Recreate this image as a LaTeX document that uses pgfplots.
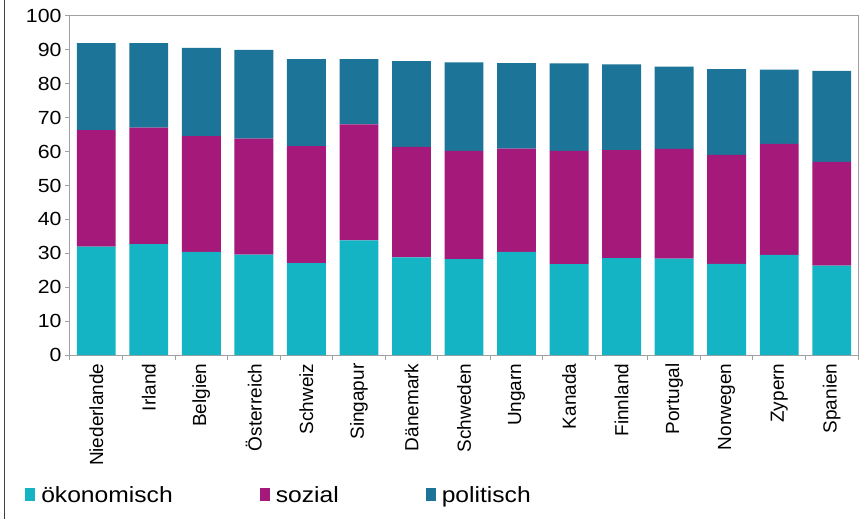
\documentclass[border=0pt]{standalone}
\usepackage{pgfplots}
\pgfplotsset{compat=1.18}
\usepackage{pgfplotstable}
\usepackage{fontspec}
\setmainfont{Liberation Sans}
\newfontfamily\wide[FakeStretch=1.12]{Liberation Sans}

\definecolor{oek}{HTML}{14B4C4}
\definecolor{soz}{HTML}{A5197A}
\definecolor{pol}{HTML}{1C7598}
\definecolor{rahmen}{HTML}{A0A0A0}

\pgfplotstableread{
x  oek   soz   pol
0  32.0  34.3  25.7
1  32.7  34.4  24.9
2  30.4  34.2  26.0
3  29.6  34.2  26.2
4  27.1  34.5  25.7
5  33.8  34.2  19.3
6  28.8  32.6  25.3
7  28.3  31.9  26.1
8  30.4  30.5  25.2
9  26.8  33.4  25.8
10 28.6  31.8  25.3
11 28.4  32.4  24.3
12 26.9  32.1  25.3
13 29.5  32.8  21.9
14 26.4  30.6  26.8
}\data

\begin{document}
\begin{tikzpicture}[x=1pt,y=1pt]
\useasboundingbox (-70,-164) rectangle (796,355);
\draw[black!75, line width=1pt] (-65,-164) -- (-65,355);
\begin{axis}[
  at={(0,0)}, anchor=south west,
  scale only axis, width=788pt, height=339pt,
  ybar stacked, bar width=0.74,
  xmin=-0.5, xmax=14.5, ymin=0, ymax=100,
  ytick={0,10,...,100},
  xtick={0,...,14},
  xticklabels={Niederlande,Irland,Belgien,Österreich,Schweiz,Singapur,Dänemark,Schweden,Ungarn,Kanada,Finnland,Portugal,Norwegen,Zypern,Spanien},
  minor xtick={-0.5,0.5,...,14.5},
  major x tick style={draw=none},
  tick align=outside, tick pos=left,
  major tick length=5pt, minor tick length=5pt,
  axis line style={rahmen, line width=1pt},
  tick style={rahmen, line width=1pt},
  x tick label style={rotate=90, anchor=east, font=\fontsize{19}{19}\selectfont},
  y tick label style={font=\wide\fontsize{19}{19}\selectfont, /pgf/number format/assume math mode=true},
  legend columns=3,
  legend style={at={(-0.057,-0.413)}, anchor=west, draw=none, fill=none,
    inner sep=0pt, font=\wide\fontsize{22}{22}\selectfont,
    /tikz/every even column/.append style={column sep=85pt}},
  legend image code/.code={\fill[#1] (0pt,-6pt) rectangle (10pt,7pt); \path (14pt,0pt);},
]
\addplot[fill=oek, draw=none] table[x=x, y=oek] {\data};
\addplot[fill=soz, draw=none] table[x=x, y=soz] {\data};
\addplot[fill=pol, draw=none] table[x=x, y=pol] {\data};
\legend{ökonomisch, sozial, politisch}
\end{axis}
\end{tikzpicture}
\end{document}
